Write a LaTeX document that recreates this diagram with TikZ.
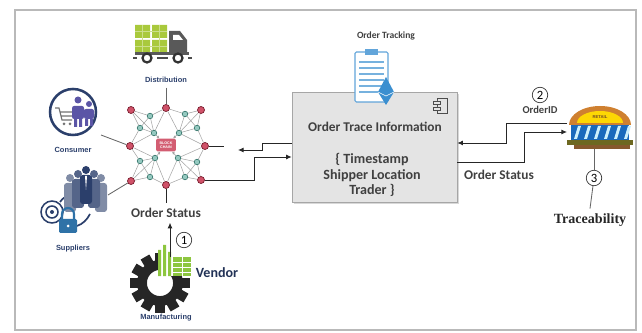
\documentclass[tikz,border=0pt]{standalone}
\usepackage{fontspec}
\setmainfont{Carlito}
\newfontfamily\labelfont{Liberation Sans}
\newfontfamily\traceserif{Liberation Serif}
\usetikzlibrary{arrows.meta,shadows,backgrounds}

\definecolor{navy}{HTML}{2B3F6B}
\definecolor{netred}{HTML}{C8344F}
\definecolor{netteal}{HTML}{3E9C8C}
\definecolor{boxgray}{HTML}{E4E4E4}
\definecolor{cargo}{HTML}{A9C93C}
\definecolor{docblue}{HTML}{3B8FD0}
\definecolor{people}{HTML}{5B55A6}
\definecolor{chart}{HTML}{8DC63F}

\begin{document}
\begin{tikzpicture}[x=0.025cm,y=-0.025cm,
  lbl/.style={font=\fontsize{9.5}{11}\selectfont\bfseries, text=black!75},
  tag/.style={font=\labelfont\fontsize{5.3}{6}\selectfont\bfseries, text=navy},
  rnode/.style={circle, draw=netred!60!black, fill=netred!85, line width=0.5pt, minimum size=5pt, inner sep=0pt},
  tnode/.style={circle, draw=netteal!70!black, fill=netteal!55, line width=0.4pt, minimum size=4pt, inner sep=0pt},
  num/.style={circle, draw=black!80, line width=0.5pt, minimum size=11pt, inner sep=0pt, font=\fontsize{9}{9}\selectfont},
  link/.style={gray!75, line width=0.35pt},
  flow/.style={black!85, line width=0.6pt},
  tip/.style={-{Latex[length=4pt,width=3.5pt]}}]
\useasboundingbox (0,0) rectangle (642,333);

% outer frame
\draw[gray!55, line width=1.2pt] (15,10) rectangle (636,330);

% blockchain network
\foreach \n/\x/\y in {r1/131/110, r2/166/108, r3/201/110, r4/205/146,
                      r5/201/180, r6/166/185, r7/131/181, r8/130/146}
  \node[rnode] (\n) at (\x,\y) {};
\foreach \n/\x/\y in {o1/150/116, o2/185/114, o3/197/128, o4/197/162,
                      o5/185/177, o6/150/177, o7/140/161, o8/140/128,
                      i1/154/133, i2/179/133, i3/178/158, i4/155/158}
  \node[tnode] (\n) at (\x,\y) {};
\node[fill=netred!80, rounded corners=1pt, minimum width=14pt, minimum height=9pt,
      inner sep=0pt, align=center, text=white, font=\labelfont\fontsize{2.6}{3}\selectfont\bfseries]
  (chain) at (166,145) {BLOCK\\CHAIN};
\begin{scope}[on background layer]
\foreach \a/\b in {r1/o1, o1/r2, r2/o2, o2/r3, r3/o3, o3/r4, r4/o4, o4/r5,
                   r5/o5, o5/r6, r6/o6, o6/r7, r7/o7, o7/r8, r8/o8, o8/r1,
                   r2/i1, r2/i2, r4/i2, r4/i3, r6/i3, r6/i4, r8/i4, r8/i1,
                   o1/i1, o2/i2, o3/i2, o4/i3, o5/i3, o6/i4, o7/i4, o8/i1,
                   r1/i1, r3/i2, r5/i3, r7/i4, o1/o8, o2/o3, o4/o5, o6/o7}
  \draw[link] (\a) -- (\b);
\foreach \a in {i1,i2,i3,i4}
  \draw[link, -{Latex[length=2pt,width=2pt]}] (\a) -- (chain);
\end{scope}

% distribution truck
\fill[cargo] (135,25) rectangle (150,38) (152,25) rectangle (167,38)
             (135,40) rectangle (150,52) (152,40) rectangle (167,52);
\draw[cargo!60!white, line width=0.4pt] (135,31) -- (167,31) (135,46) -- (167,46)
  (142,25) -- (142,52) (159,25) -- (159,52);
\fill[black!65] (169,31) -- (180,31) -- (187,40) -- (187,52) -- (169,52) -- cycle;
\fill[white] (173,35) -- (179,35) -- (183,40) -- (173,40) -- cycle;
\fill[black!65] (135,52) rectangle (189,55);
\draw[black!80, line width=1.6pt, fill=white] (147,58) circle (4.5) (178,58) circle (4.5);
\draw[black!70, line width=1.4pt] (133,58) -- (137,58) (157,58) -- (168,58) (188,58) -- (192,58);
\node[tag] (distlbl) at (166,80) {Distribution};
\draw[link, black!60, line width=0.6pt] (distlbl.south) -- (r2);

% consumer
\draw[navy, line width=1.8pt, fill=white] (73,112) circle (23);
\draw[black!55, line width=0.8pt] (55,108) -- (59,108) -- (62,120) -- (72,120)
  (60,112) -- (72,112) (61,116) -- (72,116);
\fill[black!55] (64,124) circle (1.5) (70,124) circle (1.5);
\fill[people] (78,100) circle (3.5) (89,104) circle (3);
\fill[people, rounded corners=1.5pt] (72,106) rectangle (84,119) (84,109) rectangle (94,119);
\fill[people] (74,119) rectangle (77,127) (79,119) rectangle (82,127)
              (85,119) rectangle (88,126) (90,119) rectangle (93,126);
\node[tag] (conslbl) at (73,150) {Consumer};
\coordinate (consout) at (101,135);
\draw[link, black!60, line width=0.6pt] (consout) -- (r8);

% suppliers
\draw[navy, line width=1.1pt] (52,212) circle (11) (52,212) circle (6);
\fill[navy] (52,212) circle (2);
\draw[navy, line width=1.2pt] (60,202) .. controls (66,193) and (74,196) .. (78,198)
  (62,224) .. controls (72,230) and (84,226) .. (90,214);
\foreach \px/\py/\c in {70/178/navy!60, 101/178/navy!60, 78/174/navy!80, 94/174/navy!80, 86/170/navy}
{
  \fill[\c] (\px,\py) circle (4);
  \fill[\c, rounded corners=2pt] (\px-6,\py+5) rectangle (\px+6,\py+34);
}
\fill[white] (85,176) -- (87,176) -- (86,190) -- cycle;
\fill[docblue!80!black, rounded corners=1pt] (59,219) rectangle (77,233);
\draw[docblue!80!black, line width=1.5pt] (62,219) -- (62,214) arc[start angle=180, end angle=360, radius=6] -- (74,219);
\fill[white] (68,226) circle (1.5);
\node[tag] (supplbl) at (73,249) {Suppliers};
\coordinate (suppout) at (108,195);
\draw[link, black!60, line width=0.6pt] (suppout) -- (r7);

% manufacturing gear with vendor chart
\foreach \a in {0,30,...,330}
  \fill[black!85, rotate around={\a:(160,283)}] (155,253) rectangle (165,262);
\draw[black!85, line width=7pt] (160,283) circle (18);
\fill[white] (161,240) rectangle (196,276);
\fill[chart] (158,250) rectangle (161,276) (163,245) rectangle (166,276) (168,252) rectangle (171,276);
\fill[chart] (173,257) rectangle (191,276);
\draw[white, line width=0.5pt] (173,262) -- (191,262) (173,267) -- (191,267) (173,272) -- (191,272) (182,257) -- (182,276);
\node[tag] (manulbl) at (166,318) {Manufacturing};
\node[font=\fontsize{10}{12}\selectfont\bfseries, text=navy!80!black] (vendor) at (217,273) {Vendor};

% order status into the network
\node[lbl] (statusL) at (166,213) {Order Status};
\draw[flow] (r6) -- (statusL.north);
\coordinate (manuout) at (170,257);
\draw[flow, tip] (manuout) -- (manuout |- statusL.south);
\node[num] (one) at (184,240) {1};

% order trace information box
\node[draw=gray!70, fill=boxgray, minimum width=4.125cm, minimum height=2.75cm,
      inner sep=0pt, drop shadow={shadow xshift=1.2pt, shadow yshift=-1.2pt, fill=gray!60}]
  (trace) at (374.5,147) {};
\node[lbl] (tracetitle) at (375,127) {Order Trace Information};
\node[lbl, align=center, font=\fontsize{10}{11}\selectfont\bfseries] (fields) at (372,175)
  {\{ Timestamp\\Shipper Location\\Trader \}};
\draw[black!70, fill=boxgray, line width=0.5pt] (437,98) rectangle (447,113);
\draw[black!70, fill=boxgray, line width=0.5pt] (433,101) rectangle (440,104) (433,107) rectangle (440,110);

% order tracking document
\node[font=\fontsize{6.8}{8}\selectfont\bfseries, text=black!75] (tracking) at (386,36) {Order Tracking};
\draw[docblue!80, line width=0.8pt, fill=white, rounded corners=1pt] (355,52) rectangle (388,102);
\fill[docblue!80] (365,49) rectangle (378,55);
\foreach \yy in {62,68,...,92}
  \draw[docblue!70, line width=1.1pt] (359,\yy) -- (384,\yy);
\fill[docblue] (386,77) -- (394,92) -- (386,105) -- (378,92) -- cycle;
\draw[white, line width=0.4pt] (378,92) -- (386,96) -- (394,92);

% links between network and trace box
\coordinate (la0) at (224,146);
\coordinate (la1) at (262,143);
\coordinate (la2) at (262,150);
\coordinate (la3) at (238,150);
\draw[flow] (r4) -- (la0);
\draw[flow, tip] (trace.west |- la1) -- (la1) -- (la2) -- (la3);
\coordinate (lb1) at (254,180);
\coordinate (lb2) at (254,157);
\draw[flow, tip] (r5) -- (lb1) -- (lb2) -- (trace.west |- lb2);

% retail store
\fill[brown!75!orange] (569,125) arc[start angle=180, end angle=360, x radius=31, y radius=19] -- cycle;
\fill[yellow!75!orange] (577,123) arc[start angle=180, end angle=360, x radius=23, y radius=12] -- cycle;
\node[font=\labelfont\fontsize{3}{3}\selectfont\bfseries, text=brown!60!black] (retail) at (600,117) {RETAIL};
\fill[cyan!45!blue] (571,125) rectangle (629,140);
\foreach \sx in {574,584,...,624}
  \fill[white!80!cyan] (\sx,139) -- (\sx+4,126) -- (\sx+7,126) -- (\sx+3,139) -- cycle;
\fill[olive!70!black] (567,140) rectangle (633,145);
\fill[brown!70!black] (574,145) rectangle (630,149);
\coordinate (shop) at (600,128);
\coordinate (shopL1) at (567,123);
\coordinate (shopL2) at (567,132);
\coordinate (shopB) at (594,149);

% links between trace box and store
\coordinate (ra1) at (506,123);
\coordinate (ra2) at (506,143);
\draw[flow, tip] (shopL1) -- (ra1) -- (ra2) -- (trace.east |- ra2);
\coordinate (rb1) at (524,162);
\coordinate (rb2) at (524,132);
\draw[flow, tip] (trace.east |- rb1) -- (rb1) -- (rb2) -- (shopL2);
\node[num] (two) at (540,95) {2};
\node[font=\fontsize{7.5}{8}\selectfont\bfseries, text=black!75] (orderid) at (540,110) {OrderID};
\node[lbl] (statusR) at (499,175) {Order Status};

% traceability
\node[num] (three) at (594,178) {3};
\node[font=\traceserif\fontsize{10}{12}\selectfont\bfseries, text=black!85] (trace3) at (590,220) {Traceability};
\draw[flow, black!60] (shopB) -- (three);
\draw[flow, black!60] (three) -- (trace3.north);
\end{tikzpicture}
\end{document}
